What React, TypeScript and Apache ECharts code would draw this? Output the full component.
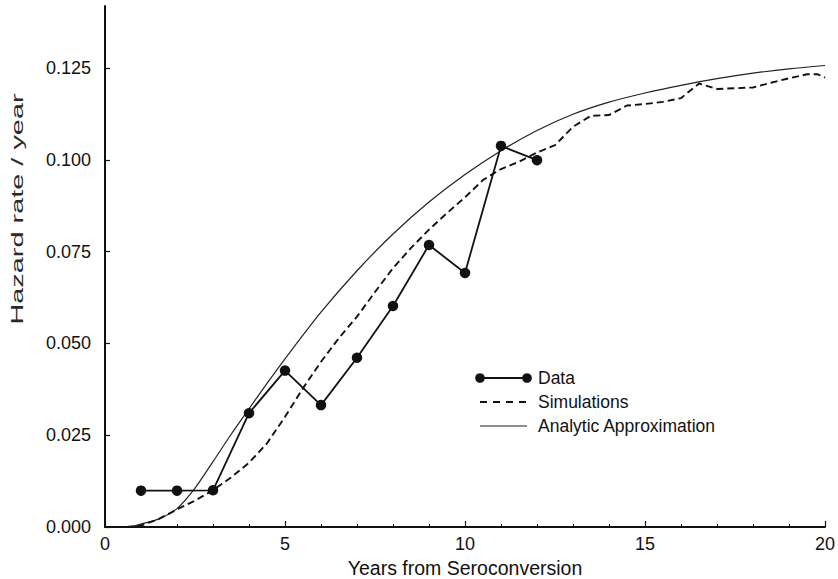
import React, { useEffect, useRef } from "react";
import * as echarts from "echarts";

// Observed data points (year, hazard rate)
const dataYears = [1, 2, 3, 4, 5, 6, 7, 8, 9, 10, 11, 12];
const dataValues = [0.0099, 0.0099, 0.0100, 0.0310, 0.0426, 0.0332, 0.0461, 0.0602, 0.0768, 0.0692, 0.1038, 0.0999];

// Simulations (dashed curve)
const simYears = [0.6, 1, 1.5, 2, 2.5, 3, 3.5, 4, 4.5, 5, 5.5, 6, 6.5, 7, 7.5, 8, 8.5, 9, 9.5, 10, 10.5, 11, 11.5, 12, 12.5, 13, 13.5, 14, 14.5, 15, 15.5, 16, 16.5, 17, 17.5, 18, 18.5, 19, 19.5, 19.8, 20];
const simValues = [0, 0.0004, 0.0022, 0.0048, 0.0072, 0.0100, 0.0135, 0.0175, 0.0228, 0.0300, 0.0378, 0.0450, 0.0515, 0.0573, 0.0640, 0.0705, 0.0760, 0.0810, 0.0855, 0.0898, 0.0945, 0.0975, 0.0995, 0.1020, 0.1040, 0.1090, 0.1120, 0.1122, 0.1148, 0.1152, 0.1158, 0.1168, 0.1208, 0.1193, 0.1195, 0.1197, 0.1210, 0.1222, 0.1233, 0.1233, 0.1224];

// Analytic approximation (thin solid curve)
const anaYears = [0.7, 1, 1.5, 2, 2.5, 3, 3.5, 4, 4.5, 5, 6, 7, 8, 9, 10, 11, 12, 13, 14, 15, 16, 17, 18, 19, 20];
const anaValues = [0, 0.0008, 0.0022, 0.0050, 0.0106, 0.0178, 0.0252, 0.0322, 0.0391, 0.0458, 0.0585, 0.0698, 0.0798, 0.0885, 0.0960, 0.1025, 0.1080, 0.1124, 0.1157, 0.1182, 0.1203, 0.1221, 0.1236, 0.1248, 0.1257];

const yTicks = [0, 0.025, 0.05, 0.075, 0.1, 0.125];
const xTickLabels = ["0", "5", "10", "15", "20"];
const legendLabels = ["Data", "Simulations", "Analytic Approximation"];

const INK = "#111111";
const FONT = "'Liberation Sans', Arial, Helvetica, sans-serif";

export default function App() {
  const ref = useRef<HTMLDivElement>(null);

  useEffect(() => {
    document.body.style.margin = "0";
    if (!ref.current) return;
    const chart = echarts.init(ref.current, null, { renderer: "svg" });

    const pair = (xs: number[], ys: number[]) => xs.map((x, i) => [x, ys[i]]);

    const lx0 = 480;
    const lx1 = 527;
    const ly = [378, 402, 426];
    const tx = 538;

    chart.setOption({
      animation: false,
      backgroundColor: "#ffffff",
      textStyle: { fontFamily: FONT, color: INK },
      grid: { left: 105, right: 13, top: 6, bottom: 52, containLabel: false, outerBoundsMode: "none" },
      xAxis: {
        type: "value",
        min: 0,
        max: 20,
        interval: 5,
        name: "Years from Seroconversion",
        nameLocation: "middle",
        nameGap: 29,
        nameTextStyle: { fontSize: 19.5, color: INK, fontFamily: FONT },
        axisLine: { show: true, onZero: false, lineStyle: { color: INK, width: 2 } },
        axisTick: { show: true, inside: true, length: 6, lineStyle: { color: INK, width: 1.2 } },
        minorTick: { show: true, splitNumber: 5, length: 3, lineStyle: { color: INK, width: 1 } },
        splitLine: { show: false },
        minorSplitLine: { show: false },
        axisLabel: {
          fontSize: 18,
          color: INK,
          fontFamily: FONT,
          margin: 8,
          formatter: (v: number) => {
            const idx = [0, 5, 10, 15, 20].indexOf(v);
            return idx >= 0 ? xTickLabels[idx] : "";
          },
        },
      },
      yAxis: {
        type: "value",
        min: 0,
        max: 0.1419,
        interval: 0.025,
        axisLine: { show: true, onZero: false, lineStyle: { color: INK, width: 2 } },
        axisTick: { show: true, inside: true, length: 5, lineStyle: { color: INK, width: 1.2 } },
        splitLine: { show: false },
        axisLabel: {
          fontSize: 18,
          color: INK,
          fontFamily: FONT,
          margin: 14,
          showMaxLabel: false,
          formatter: (v: number) => {
            const t = yTicks.find((k) => Math.abs(k - v) < 1e-6);
            return t === undefined ? "" : t.toFixed(3);
          },
        },
      },
      series: [
        {
          name: "Analytic Approximation",
          type: "line",
          data: pair(anaYears, anaValues),
          smooth: 0.3,
          showSymbol: false,
          symbol: "none",
          lineStyle: { color: "#222222", width: 1.2 },
          z: 2,
        },
        {
          name: "Simulations",
          type: "line",
          data: pair(simYears, simValues),
          showSymbol: false,
          symbol: "none",
          lineStyle: { color: INK, width: 1.9, type: [7, 4] },
          z: 3,
        },
        {
          name: "Data",
          type: "line",
          data: pair(dataYears, dataValues),
          symbol: "circle",
          symbolSize: 10.5,
          itemStyle: { color: INK },
          lineStyle: { color: INK, width: 1.8 },
          z: 4,
        },
      ],
      graphic: [
        {
          type: "text",
          x: 18,
          y: 209,
          rotation: Math.PI / 2,
          scaleX: 1.7,
          scaleY: 0.92,
          style: {
            text: "Hazard rate / year",
            fontSize: 17,
            fontFamily: FONT,
            fill: "#2a2a2a",
            align: "center",
            verticalAlign: "middle",
          },
        },
        { type: "line", shape: { x1: lx0, y1: ly[0], x2: lx1, y2: ly[0] }, style: { stroke: INK, lineWidth: 1.8 } },
        { type: "circle", shape: { cx: lx0, cy: ly[0], r: 4.8 }, style: { fill: INK } },
        { type: "circle", shape: { cx: lx1, cy: ly[0], r: 4.8 }, style: { fill: INK } },
        { type: "line", shape: { x1: lx0, y1: ly[1], x2: lx1, y2: ly[1] }, style: { stroke: INK, lineWidth: 1.8, lineDash: [7, 6] } },
        { type: "line", shape: { x1: lx0, y1: ly[2], x2: lx1, y2: ly[2] }, style: { stroke: "#222222", lineWidth: 1.2 } },
        ...legendLabels.map((t, i) => ({
          type: "text",
          x: tx,
          y: ly[i],
          style: { text: t, fontSize: 17.5, fontFamily: FONT, fill: INK, align: "left", verticalAlign: "middle" },
        })),
      ],
    });

    return () => chart.dispose();
  }, []);

  return (
    <div
      ref={ref}
      style={{ position: "fixed", left: 0, top: 0, width: 838, height: 579, background: "#fff" }}
    />
  );
}
